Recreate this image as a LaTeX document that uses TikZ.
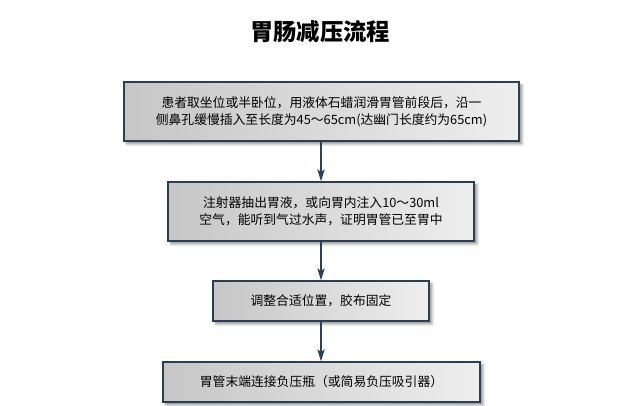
\documentclass[tikz,border=0pt]{standalone}
\usepackage{fontspec}
\setmainfont{Noto Sans CJK SC}
\usetikzlibrary{arrows.meta,shadows.blur}
\definecolor{boxedge}{RGB}{44,62,82}
\definecolor{boxleft}{RGB}{198,198,198}
\definecolor{boxright}{RGB}{238,238,238}
\definecolor{arrowcol}{RGB}{44,64,89}
\tikzset{
  stepbox/.style={draw=boxedge, line width=1pt, inner sep=0pt,
    left color=boxleft, right color=boxright, shading angle=90,
    align=center, font=\fontsize{9.6pt}{12.8pt}\selectfont, text=black,
    blur shadow={shadow xshift=2.2pt, shadow yshift=-2.2pt, shadow blur steps=6, shadow blur radius=2pt, shadow opacity=45}},
  flowarrow/.style={draw=arrowcol, line width=0.9pt, -{Stealth[length=9pt,width=5.5pt,inset=2pt]}},
}
\begin{document}
\begin{tikzpicture}[x=0.75pt,y=-0.75pt]
\useasboundingbox (0,0) rectangle (642,405);
\node[font=\fontsize{17.5pt}{20pt}\selectfont\bfseries] (title) at (320,32) {胃肠减压流程};
\node[stepbox, minimum width=296.25pt, minimum height=44.25pt] (b1) at (321.5,111.5)
  {患者取坐位或半卧位，用液体石蜡润滑胃管前段后，沿一\\侧鼻孔缓慢插入至长度为45～65cm(达幽门长度约为65cm)};
\node[stepbox, minimum width=229.5pt, minimum height=44.25pt] (b2) at (321,211.5)
  {注射器抽出胃液，或向胃内注入10～30ml\\空气，能听到气过水声，证明胃管已至胃中};
\node[stepbox, minimum width=162pt, minimum height=30pt] (b3) at (321,301)
  {调整合适位置，胶布固定};
\node[stepbox, minimum width=237.75pt, minimum height=30pt] (b4) at (321.5,382)
  {胃管末端连接负压瓶（或简易负压吸引器）};
\draw[flowarrow] (b1.south -| b2.north) -- (b2.north);
\draw[flowarrow] (b2.south) -- (b3.north);
\draw[flowarrow] (b3.south) -- (b3.south |- b4.north);
\end{tikzpicture}
\end{document}
